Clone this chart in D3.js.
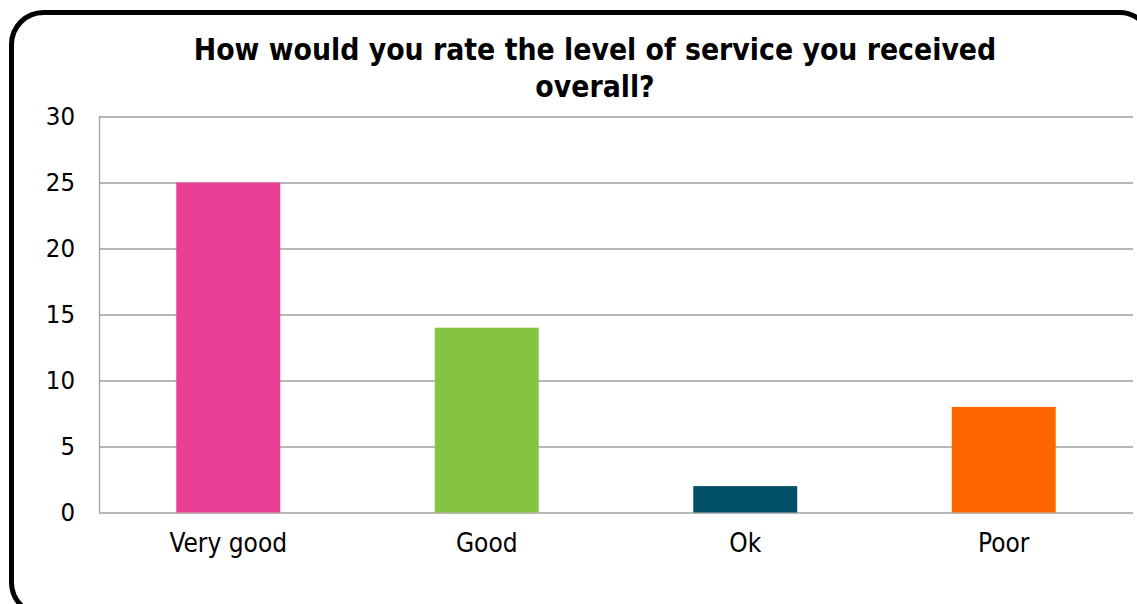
<!DOCTYPE html>
<html><head><meta charset="utf-8">
<script src="https://cdn.jsdelivr.net/npm/d3@7"></script>
<style>body{margin:0;background:#fff;overflow:hidden}</style>
</head><body><svg id="c" width="1137" height="604"></svg>
<script>
const categories = ["Very good", "Good", "Ok", "Poor"];
const values = [25, 14, 2, 8];
const colors = ["#E84095", "#84C441", "#00506A", "#FF6600"];
const yTicks = [0, 5, 10, 15, 20, 25, 30];
const titleLines = ["How would you rate the level of service you received", "overall?"];

const svg = d3.select("#c");
const font = "'DejaVu Sans Condensed', 'DejaVu Sans', sans-serif";
svg.append("rect").attr("x", 11.5).attr("y", 12.5).attr("width", 1140).attr("height", 602)
  .attr("rx", 32).attr("ry", 32).attr("fill", "#fff").attr("stroke", "#000").attr("stroke-width", 5);

const pL = 99, pR = 1133, pT = 116.5, pB = 512.5;
const x = d3.scaleBand().domain(categories).range([pL, pR]).paddingInner(0.598).paddingOuter(0.299);
const y = d3.scaleLinear().domain([0, 30]).range([pB, pT]);

const yAxis = d3.axisLeft(y).tickValues(yTicks).tickSize(-(pR - pL)).tickPadding(24);
const gy = svg.append("g").attr("transform", `translate(${pL},0)`).call(yAxis);
gy.select(".domain").attr("stroke", "#a0a0a0").attr("stroke-width", 1.3).attr("d", `M0.5,${pT}V${pB}`);
gy.selectAll(".tick line").attr("stroke", "#a0a0a0").attr("stroke-width", 1.3);
gy.selectAll(".tick text").attr("font-family", font).attr("font-size", 25.5).attr("fill", "#000").attr("x", -24);

svg.append("g").selectAll("rect").data(values).join("rect")
  .attr("x", (d, i) => x(categories[i])).attr("width", x.bandwidth())
  .attr("y", d => y(d)).attr("height", d => y(0) - y(d))
  .attr("fill", (d, i) => colors[i]);

const xAxis = d3.axisBottom(x).tickSize(0).tickPadding(21);
const gx = svg.append("g").attr("transform", `translate(0,${pB})`).call(xAxis);
gx.select(".domain").remove();
gx.selectAll(".tick text").attr("font-family", font).attr("font-size", 26).attr("fill", "#000");

svg.append("g").selectAll("text").data(titleLines).join("text")
  .attr("x", 595).attr("y", (d, i) => 60 + i * 37).attr("text-anchor", "middle")
  .attr("font-family", font).attr("font-weight", "bold").attr("font-size", 29.8).attr("fill", "#000")
  .text(d => d);
</script></body></html>
